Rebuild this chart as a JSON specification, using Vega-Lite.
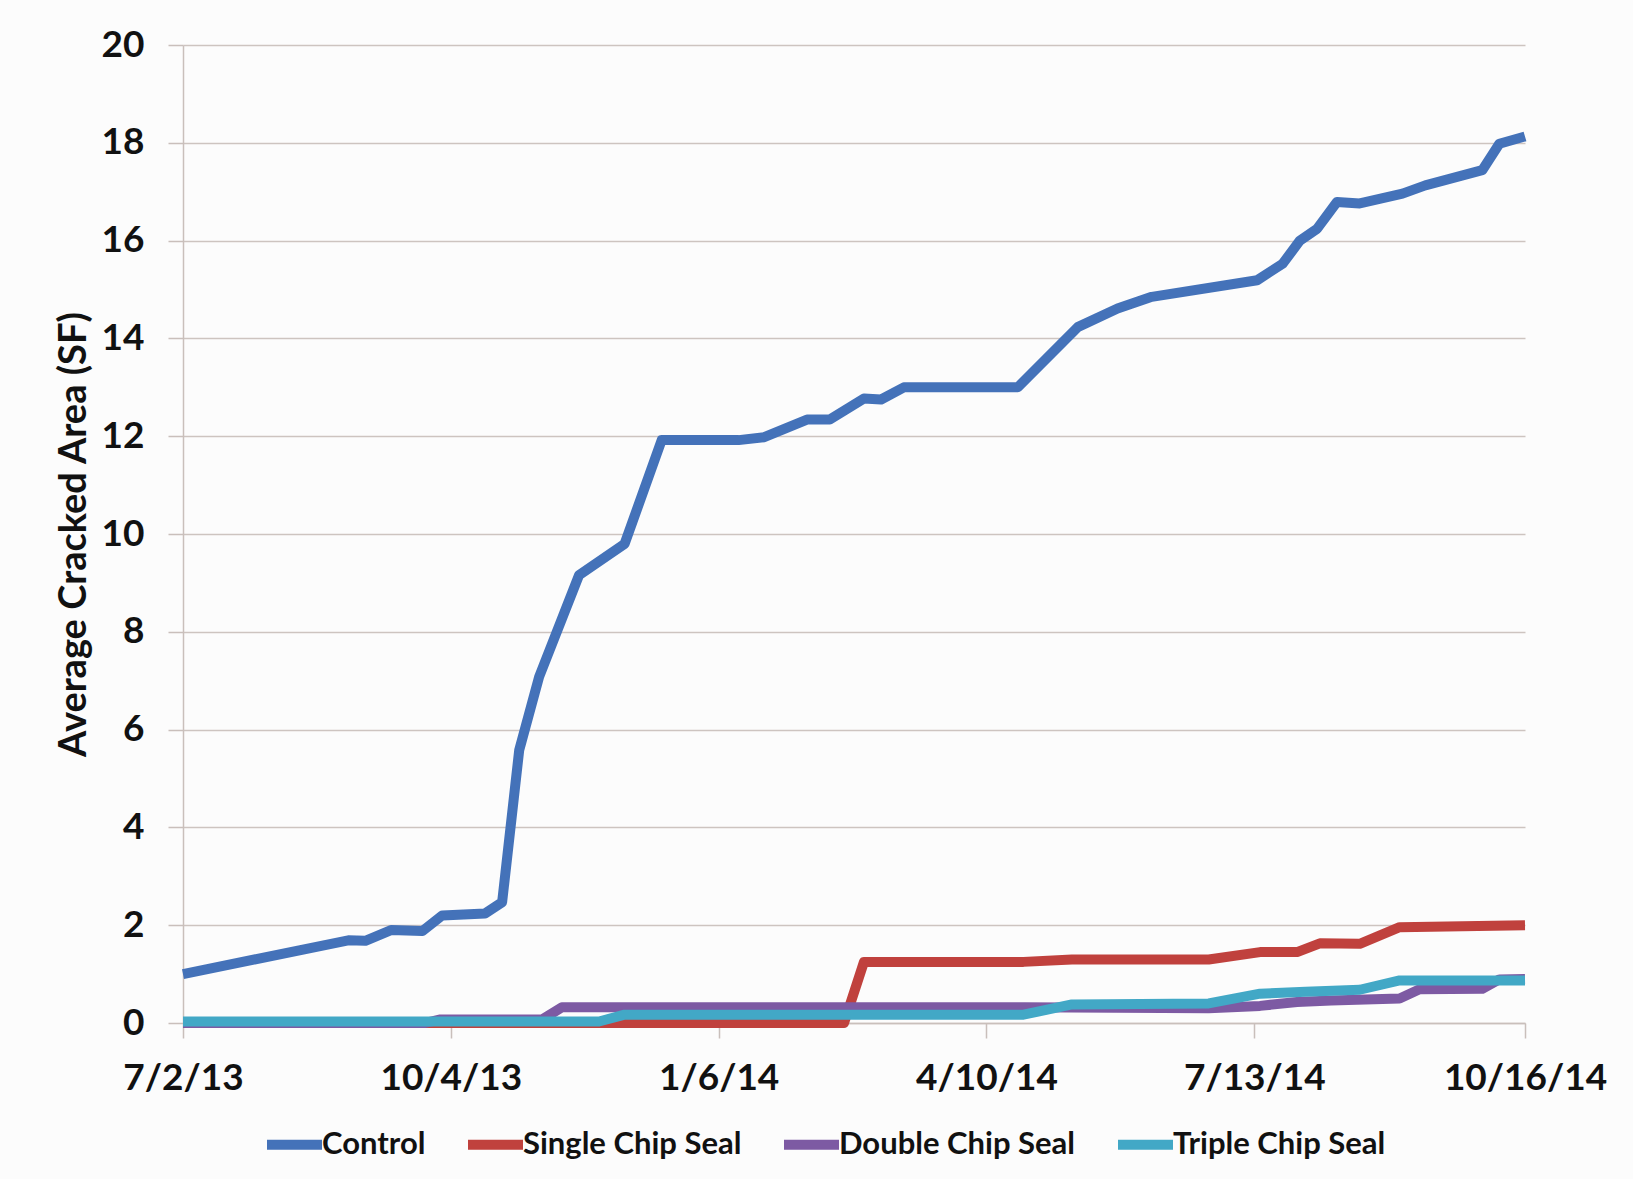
{
  "$schema": "https://vega.github.io/schema/vega-lite/v6.json",
  "width": 1342,
  "height": 978,
  "autosize": {"type": "none"},
  "padding": {"left": 183, "top": 45, "right": 108, "bottom": 156},
  "background": "#fcfcfc",
  "config": {"view": {"stroke": null}, "font": "Lato"},
  "data": {"values": [
    {"date": "2013-07-02", "series": "Control", "value": 1.0},
    {"date": "2013-08-29", "series": "Control", "value": 1.69},
    {"date": "2013-09-04", "series": "Control", "value": 1.68},
    {"date": "2013-09-13", "series": "Control", "value": 1.9},
    {"date": "2013-09-24", "series": "Control", "value": 1.88},
    {"date": "2013-10-01", "series": "Control", "value": 2.2},
    {"date": "2013-10-16", "series": "Control", "value": 2.24},
    {"date": "2013-10-22", "series": "Control", "value": 2.47},
    {"date": "2013-10-28", "series": "Control", "value": 5.58},
    {"date": "2013-11-04", "series": "Control", "value": 7.08},
    {"date": "2013-11-18", "series": "Control", "value": 9.16},
    {"date": "2013-12-04", "series": "Control", "value": 9.8},
    {"date": "2013-12-17", "series": "Control", "value": 11.92},
    {"date": "2014-01-13", "series": "Control", "value": 11.92},
    {"date": "2014-01-22", "series": "Control", "value": 11.98},
    {"date": "2014-02-06", "series": "Control", "value": 12.34},
    {"date": "2014-02-14", "series": "Control", "value": 12.34},
    {"date": "2014-02-26", "series": "Control", "value": 12.77},
    {"date": "2014-03-04", "series": "Control", "value": 12.75},
    {"date": "2014-03-12", "series": "Control", "value": 13.0},
    {"date": "2014-04-21", "series": "Control", "value": 13.0},
    {"date": "2014-05-12", "series": "Control", "value": 14.23},
    {"date": "2014-05-26", "series": "Control", "value": 14.61},
    {"date": "2014-06-07", "series": "Control", "value": 14.85},
    {"date": "2014-07-14", "series": "Control", "value": 15.19},
    {"date": "2014-07-23", "series": "Control", "value": 15.53},
    {"date": "2014-07-29", "series": "Control", "value": 16.0},
    {"date": "2014-08-04", "series": "Control", "value": 16.24},
    {"date": "2014-08-11", "series": "Control", "value": 16.79},
    {"date": "2014-08-19", "series": "Control", "value": 16.76},
    {"date": "2014-09-03", "series": "Control", "value": 16.96},
    {"date": "2014-09-11", "series": "Control", "value": 17.13},
    {"date": "2014-10-01", "series": "Control", "value": 17.44},
    {"date": "2014-10-07", "series": "Control", "value": 17.98},
    {"date": "2014-10-16", "series": "Control", "value": 18.13},
    {"date": "2013-07-02", "series": "Single Chip Seal", "value": 0},
    {"date": "2014-02-19", "series": "Single Chip Seal", "value": 0},
    {"date": "2014-02-26", "series": "Single Chip Seal", "value": 1.25},
    {"date": "2014-04-23", "series": "Single Chip Seal", "value": 1.25},
    {"date": "2014-05-10", "series": "Single Chip Seal", "value": 1.3},
    {"date": "2014-06-27", "series": "Single Chip Seal", "value": 1.3},
    {"date": "2014-07-15", "series": "Single Chip Seal", "value": 1.45},
    {"date": "2014-07-28", "series": "Single Chip Seal", "value": 1.45},
    {"date": "2014-08-05", "series": "Single Chip Seal", "value": 1.63},
    {"date": "2014-08-19", "series": "Single Chip Seal", "value": 1.62},
    {"date": "2014-09-02", "series": "Single Chip Seal", "value": 1.96},
    {"date": "2014-10-16", "series": "Single Chip Seal", "value": 2.0},
    {"date": "2013-07-02", "series": "Double Chip Seal", "value": 0},
    {"date": "2013-09-25", "series": "Double Chip Seal", "value": 0},
    {"date": "2013-09-30", "series": "Double Chip Seal", "value": 0.07},
    {"date": "2013-11-05", "series": "Double Chip Seal", "value": 0.07},
    {"date": "2013-11-12", "series": "Double Chip Seal", "value": 0.32},
    {"date": "2014-04-23", "series": "Double Chip Seal", "value": 0.32},
    {"date": "2014-06-27", "series": "Double Chip Seal", "value": 0.3},
    {"date": "2014-07-15", "series": "Double Chip Seal", "value": 0.35},
    {"date": "2014-07-28", "series": "Double Chip Seal", "value": 0.43},
    {"date": "2014-08-09", "series": "Double Chip Seal", "value": 0.46},
    {"date": "2014-09-02", "series": "Double Chip Seal", "value": 0.5},
    {"date": "2014-09-09", "series": "Double Chip Seal", "value": 0.69},
    {"date": "2014-10-01", "series": "Double Chip Seal", "value": 0.7},
    {"date": "2014-10-07", "series": "Double Chip Seal", "value": 0.89},
    {"date": "2014-10-16", "series": "Double Chip Seal", "value": 0.9},
    {"date": "2013-07-02", "series": "Triple Chip Seal", "value": 0.03},
    {"date": "2013-11-25", "series": "Triple Chip Seal", "value": 0.03},
    {"date": "2013-12-04", "series": "Triple Chip Seal", "value": 0.17},
    {"date": "2014-04-23", "series": "Triple Chip Seal", "value": 0.17},
    {"date": "2014-05-10", "series": "Triple Chip Seal", "value": 0.38},
    {"date": "2014-06-27", "series": "Triple Chip Seal", "value": 0.4},
    {"date": "2014-07-15", "series": "Triple Chip Seal", "value": 0.6},
    {"date": "2014-07-31", "series": "Triple Chip Seal", "value": 0.64},
    {"date": "2014-08-19", "series": "Triple Chip Seal", "value": 0.68},
    {"date": "2014-09-02", "series": "Triple Chip Seal", "value": 0.87},
    {"date": "2014-10-16", "series": "Triple Chip Seal", "value": 0.87}
  ]},
  "mark": {"type": "line", "strokeWidth": 10, "strokeJoin": "round", "strokeCap": "butt"},
  "encoding": {
    "x": {
      "field": "date",
      "type": "temporal",
      "scale": {"type": "utc", "domain": [
        {"year": 2013, "month": 7, "date": 2, "utc": true},
        {"year": 2014, "month": 10, "date": 16, "utc": true}
      ]},
      "axis": {
        "title": null,
        "values": [
          {"year": 2013, "month": 7, "date": 2, "utc": true},
          {"year": 2013, "month": 10, "date": 4, "utc": true},
          {"year": 2014, "month": 1, "date": 6, "utc": true},
          {"year": 2014, "month": 4, "date": 10, "utc": true},
          {"year": 2014, "month": 7, "date": 13, "utc": true},
          {"year": 2014, "month": 10, "date": 16, "utc": true}
        ],
        "format": "%-m/%-d/%y",
        "grid": false,
        "labelFontSize": 37,
        "labelFontWeight": "bold",
        "labelColor": "#111111",
        "labelPadding": 22,
        "labelFlush": false,
        "labelOverlap": false,
        "tickSize": 15,
        "tickColor": "#c9bfbb",
        "tickWidth": 1.5,
        "domainColor": "#c9bfbb",
        "domainWidth": 1.5
      }
    },
    "y": {
      "field": "value",
      "type": "quantitative",
      "scale": {"domain": [0, 20], "nice": false},
      "axis": {
        "title": "Average Cracked Area (SF)",
        "titleFontSize": 38,
        "titleFontWeight": "bold",
        "titleColor": "#111111",
        "titlePadding": 8,
        "values": [0, 2, 4, 6, 8, 10, 12, 14, 16, 18, 20],
        "labelFontSize": 37,
        "labelFontWeight": "bold",
        "labelColor": "#111111",
        "labelPadding": 24,
        "tickSize": 15,
        "tickColor": "#c9bfbb",
        "tickWidth": 1.5,
        "domainColor": "#c9bfbb",
        "domainWidth": 1.5,
        "grid": true,
        "gridColor": "#cdc4c0",
        "gridWidth": 1.5
      }
    },
    "color": {
      "field": "series",
      "type": "nominal",
      "sort": ["Control", "Single Chip Seal", "Double Chip Seal", "Triple Chip Seal"],
      "scale": {
        "domain": ["Control", "Single Chip Seal", "Double Chip Seal", "Triple Chip Seal"],
        "range": ["#4472b9", "#c0413d", "#7d5aa3", "#42a8c6"]
      },
      "legend": {
        "title": null,
        "orient": "none",
        "legendX": 79,
        "legendY": 1067,
        "direction": "horizontal",
        "symbolType": "stroke",
        "symbolSize": 3025,
        "symbolStrokeWidth": 10,
        "labelFontSize": 31,
        "labelFontWeight": "bold",
        "labelColor": "#111111",
        "labelLimit": 0,
        "labelOffset": -5,
        "columnPadding": 22
      }
    }
  }
}
